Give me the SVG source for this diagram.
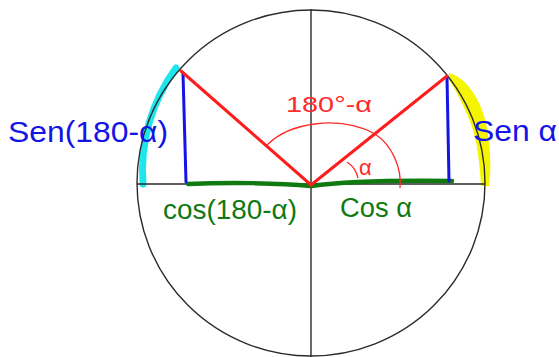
<svg xmlns="http://www.w3.org/2000/svg" width="559" height="357" viewBox="0 0 559 357">
<style>
.axis{stroke:#2a2a2a;stroke-width:1.4;fill:none}
.red{stroke:#ff1c1c;stroke-width:3;fill:none;stroke-linecap:round}
.redthin{stroke:#ff2a2a;stroke-width:1.3;fill:none}
.blue{stroke:#1414e6;stroke-width:3;fill:none;stroke-linecap:round}
.green{stroke:#107a10;stroke-width:4.5;fill:none;stroke-linecap:round}
.hl{fill:none;stroke-linecap:round}
text{font-family:"Liberation Sans","DejaVu Sans",sans-serif}
.tb{fill:#1414e6;font-size:30px}
.tg{fill:#107a10;font-size:27px}
.tr{fill:#ff2a2a}
</style>
<rect width="559" height="357" fill="#ffffff"/>
<g id="highlights">
<path class="hl" d="M176,68 A174,174 0 0 0 143,184" stroke="#1ee6ec" stroke-width="7"/>
<path d="M449,73 C470,78 486,110 488,135 C491,155 491,175 489,186 L481,186 C480,165 477,140 471,124 C464,106 456,90 449,80 Z" fill="#f5f500"/>
</g>
<g id="circle">
<ellipse cx="311" cy="183" rx="174" ry="173" class="axis"/>
</g>
<g id="axes">
<line x1="311" y1="9" x2="311" y2="357" class="axis"/>
<line x1="137" y1="184" x2="485" y2="184" class="axis"/>
</g>
<g id="connectors">
<path class="green" d="M188,184 C230,182 280,183 311,186 C340,182 380,180 452,181"/>
<line class="blue" x1="183" y1="73" x2="186" y2="182"/>
<line class="blue" x1="447" y1="77" x2="449" y2="181"/>
<path class="red" d="M181,71 L311,185 L447,76"/>
<path class="redthin" d="M267,145 C290,122 340,115 375,134 C392,145 402,168 400,188"/>
<path class="redthin" d="M347,162 Q356,168 358,178"/>
</g>
<g id="label-sen180">
<text class="tb" x="8" y="142" textLength="160" lengthAdjust="spacingAndGlyphs">Sen(180-α)</text>
</g>
<g id="label-sen">
<text class="tb" x="473" y="141" textLength="84" lengthAdjust="spacingAndGlyphs">Sen α</text>
</g>
<g id="label-cos180">
<text class="tg" x="163" y="219" textLength="134" lengthAdjust="spacingAndGlyphs">cos(180-α)</text>
</g>
<g id="label-cos">
<text class="tg" x="340" y="217" textLength="72" lengthAdjust="spacingAndGlyphs">Cos α</text>
</g>
<g id="label-angle">
<text class="tr" x="286" y="112" font-size="22" textLength="86" lengthAdjust="spacingAndGlyphs">180°-α</text>
<text class="tr" x="359" y="175" font-size="22">α</text>
</g>
</svg>
